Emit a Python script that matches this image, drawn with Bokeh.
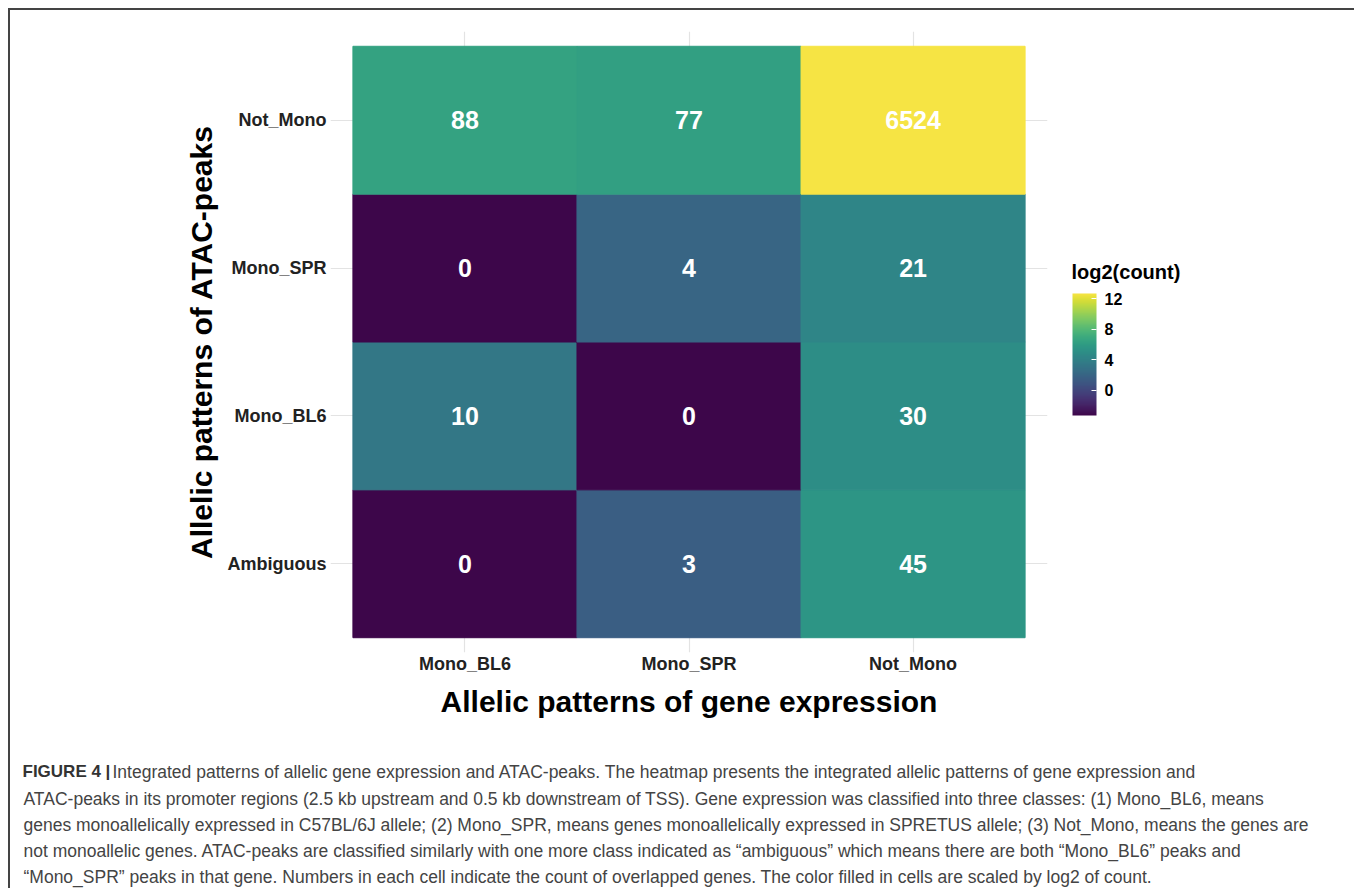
import numpy as np
from bokeh.plotting import figure
from bokeh.layouts import column, row
from bokeh.models import (ColumnDataSource, LinearColorMapper, ColorBar, FixedTicker,
                          Label, Range1d, Spacer)
from bokeh.palettes import Viridis256
from bokeh.core.properties import value
from bokeh.embed import file_html
from bokeh.resources import INLINE

# ---------------- data ----------------
expr_classes = ["Mono_BL6", "Mono_SPR", "Not_Mono"]
atac_classes = ["Ambiguous", "Mono_BL6", "Mono_SPR", "Not_Mono"]
counts_not_mono = [88, 77, 6524]
counts_mono_spr = [0, 4, 21]
counts_mono_bl6 = [10, 0, 30]
counts_ambiguous = [0, 3, 45]
colorbar_ticks = [0, 4, 8, 12]

x_title = "Allelic patterns of gene expression"
y_title = "Allelic patterns of ATAC-peaks"
legend_title = "log2(count)"
caption_head = "FIGURE 4 |"
caption_lines = [
    "Integrated patterns of allelic gene expression and ATAC-peaks. The heatmap presents the integrated allelic patterns of gene expression and",
    "ATAC-peaks in its promoter regions (2.5 kb upstream and 0.5 kb downstream of TSS). Gene expression was classified into three classes: (1) Mono_BL6, means",
    "genes monoallelically expressed in C57BL/6J allele; (2) Mono_SPR, means genes monoallelically expressed in SPRETUS allele; (3) Not_Mono, means the genes are",
    "not monoallelic genes. ATAC-peaks are classified similarly with one more class indicated as \u201cambiguous\u201d which means there are both \u201cMono_BL6\u201d peaks and",
    "\u201cMono_SPR\u201d peaks in that gene. Numbers in each cell indicate the count of overlapped genes. The color filled in cells are scaled by log2 of count.",
]

rows = {"Ambiguous": counts_ambiguous, "Mono_BL6": counts_mono_bl6,
        "Mono_SPR": counts_mono_spr, "Not_Mono": counts_not_mono}
xs, ys, cs = [], [], []
for j, a in enumerate(atac_classes):
    for i, c in enumerate(rows[a]):
        xs.append(i + 0.5); ys.append(j + 0.5); cs.append(c)
cs_arr = np.array(cs, dtype=float)
log2c = np.log2(np.where(cs_arr == 0, 0.1, cs_arr))
src = ColumnDataSource(dict(x=xs, y=ys, count=[str(c) for c in cs], log2=log2c))

# slightly muted viridis (as printed in the figure)
def _mute(h, k=0.82):
    r, g, b = int(h[1:3], 16), int(h[3:5], 16), int(h[5:7], 16)
    L = 0.3 * r + 0.59 * g + 0.11 * b
    return "#%02x%02x%02x" % tuple(int(round(k * c + (1 - k) * L)) for c in (r, g, b))

palette = [_mute(h) for h in Viridis256]
mapper = LinearColorMapper(palette=palette, low=float(log2c.min()), high=float(log2c.max()))

# ---------------- layout geometry (page pixels) ----------------
OX, OY = 10, 10            # content origin (after 8px margin + 2px border line)
SPLIT_X, SPLIT_Y = 1060, 745
W_ALL, H_ALL = 1354, 888
FL, FRX, FT, FBY = 330, 1047, 31, 652   # heatmap frame edges

# ---------------- main heatmap ----------------
pad = 0.1
p = figure(width=SPLIT_X - OX, height=SPLIT_Y - OY, output_backend="svg", toolbar_location=None,
           x_range=Range1d(-pad, len(expr_classes) + pad),
           y_range=Range1d(-pad, len(atac_classes) + pad),
           min_border_left=FL - OX, min_border_right=SPLIT_X - FRX,
           min_border_top=FT - OY, min_border_bottom=SPLIT_Y - FBY,
           x_axis_label=x_title, y_axis_label=y_title)
p.outline_line_color = None
p.background_fill_color = "white"
p.border_fill_color = "white"

xt = [i + 0.5 for i in range(len(expr_classes))]
yt = [j + 0.5 for j in range(len(atac_classes))]
p.xaxis.ticker = FixedTicker(ticks=xt)
p.yaxis.ticker = FixedTicker(ticks=yt)
p.xaxis.major_label_overrides = {t: n for t, n in zip(xt, expr_classes)}
p.yaxis.major_label_overrides = {t: n for t, n in zip(yt, atac_classes)}

fill = {"field": "log2", "transform": mapper}
p.rect(x="x", y="y", width=1, height=1, source=src,
       fill_color=fill, line_color=fill, line_width=1)
p.text(x="x", y="y", text="count", source=src, text_color="white",
       text_font=value("Liberation Sans"), text_font_style="bold", text_font_size="25px",
       text_align="center", text_baseline="middle")

for g in (p.xgrid, p.ygrid):
    g.grid_line_color = "#e3e3e3"
    g.grid_line_width = 1.2

for ax in (p.xaxis, p.yaxis):
    ax.axis_line_color = None
    ax.major_tick_line_color = None
    ax.minor_tick_line_color = None
    ax.major_tick_out = 0
    ax.major_tick_in = 0
    ax.major_label_text_font = "Liberation Sans"
    ax.major_label_text_font_style = "bold"
    ax.major_label_text_font_size = "18px"
    ax.major_label_text_color = "#222222"
    ax.axis_label_text_font = "Liberation Sans"
    ax.axis_label_text_font_style = "bold"
    ax.axis_label_text_font_size = "30px"
    ax.axis_label_text_color = "black"
p.xaxis.major_label_standoff = 1
p.xaxis.axis_label_standoff = 8
p.yaxis.major_label_standoff = 4
p.yaxis.axis_label_standoff = 7

def blank(w, h, x0, x1, y0, y1):
    f = figure(width=w, height=h, output_backend="svg", toolbar_location=None,
               x_range=Range1d(x0, x1), y_range=Range1d(y1, y0),
               x_axis_location=None, y_axis_location=None, min_border=0,
               min_border_left=0, min_border_right=0, min_border_top=0, min_border_bottom=0)
    f.grid.visible = False
    f.outline_line_color = None
    f.background_fill_color = "white"
    f.border_fill_color = "white"
    return f

def lab(f, x, y, text, **kw):
    opts = dict(text_font="Liberation Sans", text_baseline="middle")
    opts.update(kw)
    f.add_layout(Label(x=x, y=y, text=text, **opts))

# ---------------- legend panel (its frame is aligned with the heatmap frame) ----------------
leg = blank(W_ALL - SPLIT_X, SPLIT_Y - OY, SPLIT_X, W_ALL, FT, FBY)
cb = ColorBar(color_mapper=mapper, ticker=FixedTicker(ticks=colorbar_ticks),
              width=24, height=122, location=(1072 - SPLIT_X, FBY - 415), padding=0, margin=0,
              major_label_text_font="Liberation Sans", major_label_text_font_style="bold",
              major_label_text_font_size="16px", major_label_text_color="black",
              label_standoff=8, major_tick_in=5, major_tick_out=0,
              major_tick_line_color="white", minor_tick_line_color=None,
              bar_line_color=None, border_line_color=None, background_fill_color=None)
leg.add_layout(cb, "center")
lab(leg, 1071, 271, legend_title, text_font_style="bold", text_font_size="20px", text_color="black")

# ---------------- caption panel ----------------
cap = blank(W_ALL - OX, H_ALL - SPLIT_Y, OX, W_ALL, SPLIT_Y, H_ALL)
cap_y = [771, 798, 824, 850, 876]
lab(cap, 22, cap_y[0], caption_head, text_font_style="bold", text_font_size="17px", text_color="#333333")
for i, line in enumerate(caption_lines):
    lab(cap, 112 if i == 0 else 23, cap_y[i], line, text_font_size="17.5px", text_color="#444444")

# ---------------- frame lines (top and left) ----------------
top_bar = Spacer(width=W_ALL - 8, height=2, styles={"background-color": "#444444"})
left_bar = Spacer(width=2, height=H_ALL - OY, styles={"background-color": "#444444"})
inner = column(row(p, leg), cap)
layout = column(top_bar, row(left_bar, inner), margin=(8, 0, 0, 8))

open("out.html", "w").write(file_html(layout, INLINE))
